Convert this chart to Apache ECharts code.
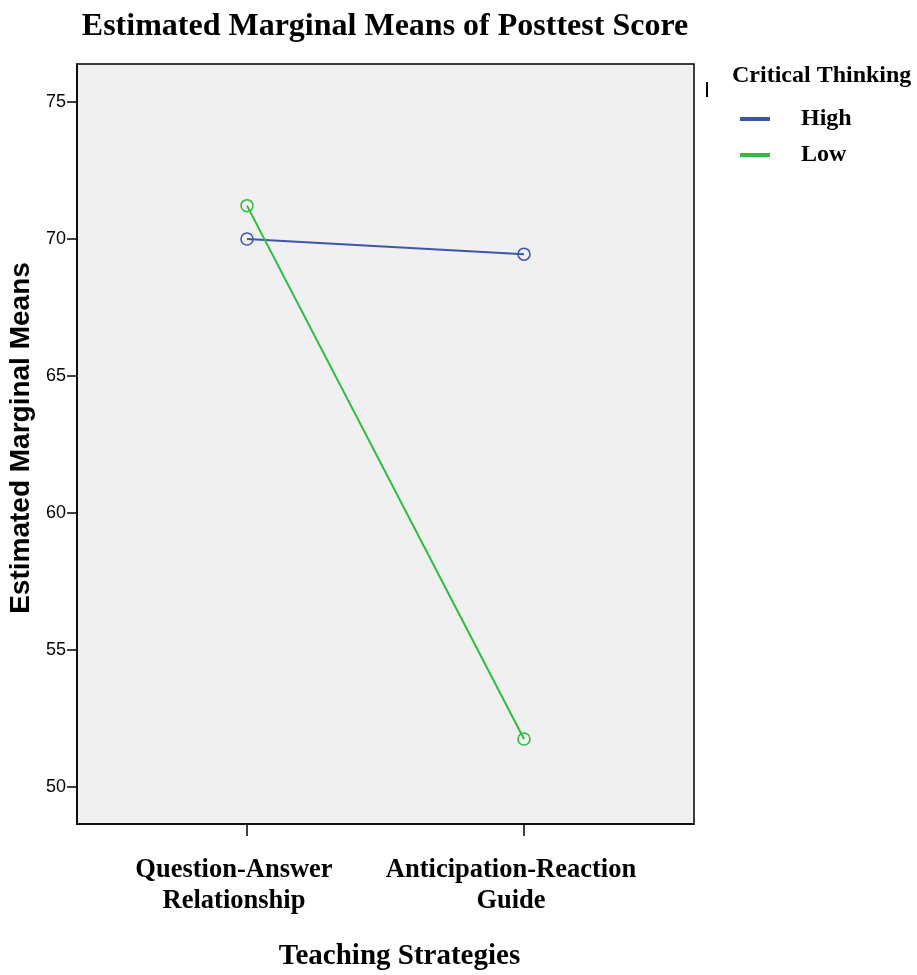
<!DOCTYPE html>
<html>
<head>
<meta charset="utf-8">
<script src="https://cdn.jsdelivr.net/npm/echarts@6/dist/echarts.min.js"></script>
<style>html,body{margin:0;padding:0;background:#fff;}#c{width:917px;height:975px;}</style>
</head>
<body>
<div id="c"></div>
<script>
const categories = ['Question-Answer\nRelationship', 'Anticipation-Reaction\nGuide'];
const seriesNames = ['High', 'Low'];
const seriesColors = ['#3d56ad', '#2bbd3f'];
const highValues = [70.0, 69.45];
const lowValues = [71.22, 51.75];
const yTicks = [50, 55, 60, 65, 70, 75];

const serif = '"Liberation Serif", "Times New Roman", serif';
const sans = '"Liberation Sans", Arial, sans-serif';
const toPairs = vals => vals.map((v, i) => [i, v]);

const mkSeries = (name, vals, color) => ({
  name: name, type: 'line', data: toPairs(vals), color: color,
  symbol: 'circle', symbolSize: 12,
  lineStyle: { width: 2, color: color },
  itemStyle: { color: 'rgba(0,0,0,0)', borderColor: color, borderWidth: 1.5 }
});

const chart = echarts.init(document.getElementById('c'));
chart.setOption({
  animation: false,
  backgroundColor: '#ffffff',
  title: [
    { text: 'Estimated Marginal Means of Posttest Score', left: 385, top: 11, padding: 0, textAlign: 'center',
      textStyle: { fontFamily: serif, fontWeight: 'bold', fontSize: 32, color: '#000' } },
    { text: 'Critical Thinking', left: 732, top: 64, padding: 0,
      textStyle: { fontFamily: serif, fontWeight: 'bold', fontSize: 24, color: '#000' } }
  ],
  legend: {
    orient: 'vertical', left: 740, top: 107, padding: 0, itemWidth: 28, itemHeight: 2, itemGap: 12,
    icon: 'rect',
    data: seriesNames.map((n, i) => ({ name: n, itemStyle: { color: seriesColors[i] } })),
    textStyle: { fontFamily: serif, fontWeight: 'bold', fontSize: 24, color: '#000', padding: [0, 0, 0, 27] }
  },
  graphic: [
    { type: 'rect', shape: { x: 706, y: 82, width: 2, height: 15 }, style: { fill: '#000' } }
  ],
  grid: { left: 77, top: 64, width: 617, height: 760, show: true, backgroundColor: '#f0f0f0',
          borderColor: '#000', borderWidth: 1.5, containLabel: false, outerBoundsMode: 'none' },
  xAxis: {
    type: 'value', min: -0.6137, max: 1.6137,
    splitLine: { show: false },
    axisLine: { show: true, onZero: false, lineStyle: { color: '#000', width: 1.5 } },
    axisTick: { show: true, length: 12, lineStyle: { color: '#000', width: 1.5 }, customValues: [0, 1] },
    axisLabel: { customValues: [0, 1], formatter: v => categories[Math.round(v)] || '',
      fontFamily: serif, fontWeight: 'bold', fontSize: 26.5, color: '#000', lineHeight: 31,
      margin: 31, padding: [0, 26, 0, 0] },
    name: 'Teaching Strategies', nameLocation: 'middle', nameGap: 118,
    nameTextStyle: { fontFamily: serif, fontWeight: 'bold', fontSize: 29, color: '#000', padding: [0, 0, 0, 28] }
  },
  yAxis: {
    type: 'value', min: 48.65, max: 76.39,
    splitLine: { show: false },
    axisLine: { show: true, onZero: false, lineStyle: { color: '#000', width: 1.5 } },
    axisTick: { show: true, length: 10, lineStyle: { color: '#000', width: 1.5 }, customValues: yTicks },
    axisLabel: { customValues: yTicks, margin: 11, fontFamily: '"Liberation Sans Narrow", ' + sans,
      fontSize: 18, color: '#000', padding: [4, 0, 0, 0] },
    name: 'Estimated Marginal Means', nameLocation: 'middle', nameGap: 40, nameRotate: 90,
    nameTextStyle: { fontFamily: sans, fontWeight: 'bold', fontSize: 28, color: '#000', padding: [0, 0, 0, 12] }
  },
  series: [
    mkSeries(seriesNames[0], highValues, seriesColors[0]),
    mkSeries(seriesNames[1], lowValues, seriesColors[1])
  ]
});
</script>
</body>
</html>
